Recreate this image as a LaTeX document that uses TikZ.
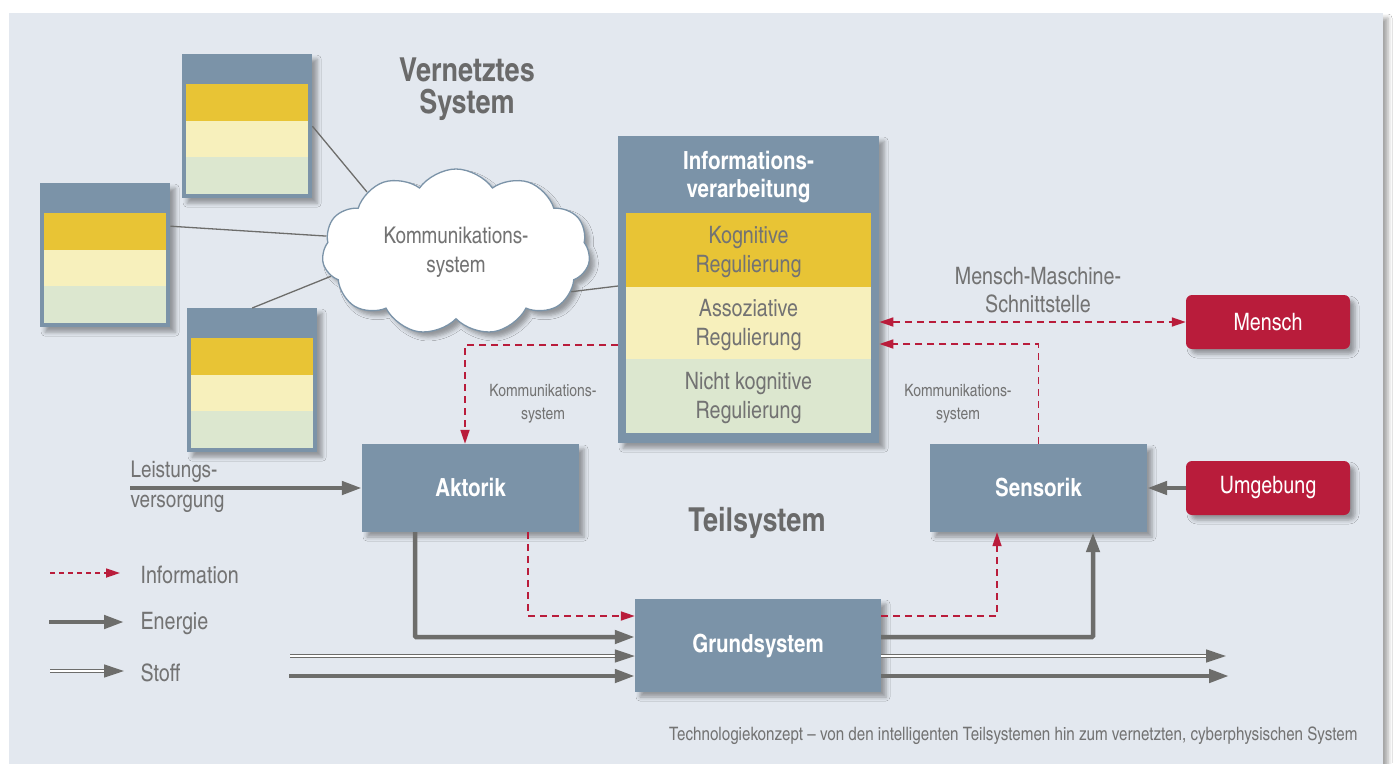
\documentclass[tikz,border=0pt]{standalone}
\usepackage{fontspec}
\setmainfont{texgyreheroscn}[Extension=.otf, UprightFont=*-regular, BoldFont=*-bold]
\usetikzlibrary{shapes.symbols,shadows.blur,arrows.meta}
\definecolor{bgpanel}{HTML}{E3E8EF}
\definecolor{slate}{HTML}{7B93A8}
\definecolor{yel}{HTML}{E8C435}
\definecolor{lyel}{HTML}{F7F0BC}
\definecolor{lgreen}{HTML}{DCE7CF}
\definecolor{crim}{HTML}{B91C3B}
\definecolor{arrgray}{HTML}{6D6D6B}
\definecolor{txtgray}{HTML}{737373}
\definecolor{ttlgray}{HTML}{6A6A6A}
\newcommand\smallsys[3]{%
  \node[slatebox, minimum width=130pt, minimum height=144pt, anchor=north west] (#1) at (#2,#3) {};
  \fill[yel] (#2+4,#3+30) rectangle (#2+126,#3+67);
  \fill[lyel] (#2+4,#3+67) rectangle (#2+126,#3+103);
  \fill[lgreen] (#2+4,#3+103) rectangle (#2+126,#3+140);
}
\begin{document}
\begin{tikzpicture}[x=1pt,y=-1pt,
  shadowed/.style={blur shadow={shadow xshift=5pt,shadow yshift=-5pt,shadow blur radius=4pt,shadow opacity=35}},
  slatebox/.style={fill=slate, draw=none, shadowed, text=white, font=\bfseries\fontsize{25}{28}\selectfont, inner sep=0pt},
  redbox/.style={fill=crim, rounded corners=6pt, shadowed, text=white, font=\fontsize{24}{28}\selectfont, minimum width=164pt, minimum height=54pt, inner sep=0pt},
  stripe/.style={draw=none, inner sep=0pt, text=txtgray, align=center, font=\fontsize{24}{29}\selectfont, minimum width=245pt},
  stripetext/.style={text=txtgray, align=center, font=\fontsize{24}{29}\selectfont},
  energy/.style={draw=arrgray, line width=4.5pt, -{Triangle[length=20pt,width=13pt]}},
  stoff/.style={draw=arrgray, double=white, line width=1.4pt, double distance=1.8pt, -{Triangle[length=20pt,width=13pt]}},
  info/.style={draw=crim, line width=1.7pt, dash pattern=on 7pt off 5pt, -{Triangle[length=14pt,width=9pt]}},
  conn/.style={draw=arrgray, line width=1.3pt},
  lbl/.style={text=txtgray, align=center, font=\fontsize{24}{28}\selectfont},
  smalllbl/.style={text=txtgray, align=center, font=\fontsize{17}{23}\selectfont},
  ttl/.style={text=ttlgray, align=center, font=\bfseries\fontsize{33}{32}\selectfont},
]
\useasboundingbox (0,0) rectangle (1394,763);
\fill[white] (0,0) rectangle (1394,763);
\fill[bgpanel, shadowed] (9,13) rectangle (1383,780);

% networked small systems
\smallsys{sb1}{182}{54}
\smallsys{sb2}{40}{183}
\smallsys{sb3}{187}{308}

% cloud
\node[cloud, cloud puffs=11, cloud puff arc=110, aspect=1.6, draw=slate, line width=1.3pt, fill=white, shadowed,
      minimum width=268pt, minimum height=166pt, lbl, font=\fontsize{23}{29}\selectfont] (cloud) at (456,252) {Kommunikations-\\system};

% information processing
\node[slatebox, minimum width=261pt, minimum height=307pt, anchor=north west] (ib) at (618,136) {};
\node[text=white, align=center, font=\bfseries\fontsize{25}{28}\selectfont] (ibt) at (748.5,177) {Informations-\\verarbeitung};
\node[stripe, fill=yel, minimum height=74pt] (kog) at (748.5,250) {};
\node[stripe, fill=lyel, minimum height=72pt] (ass) at (748.5,323) {};
\node[stripe, fill=lgreen, minimum height=74pt] (nkog) at (748.5,396) {};
\node[stripetext] (kogt) at ([yshift=-2pt]kog.center) {Kognitive\\Regulierung};
\node[stripetext] (asst) at ([yshift=-2pt]ass.center) {Assoziative\\Regulierung};
\node[stripetext] (nkogt) at ([yshift=-2pt]nkog.center) {Nicht kognitive\\Regulierung};

% connections to cloud
\draw[conn] (sb1.east) -- (cloud.146);
\draw[conn] ([yshift=29pt]sb2.east) -- (cloud.173);
\draw[conn] (sb3.north) -- (cloud.191);
\draw[conn] (cloud.341) -- (ib.west |- 0,286);

% subsystem boxes
\node[slatebox, minimum width=217pt, minimum height=88pt] (akt) at (470.5,488) {Aktorik};
\node[slatebox, minimum width=217pt, minimum height=88pt] (sens) at (1038.5,488) {Sensorik};
\node[slatebox, minimum width=246pt, minimum height=93pt] (grund) at (758,645.5) {Grundsystem};
\node[redbox] (mensch) at (1268,322) {Mensch};
\node[redbox] (umg) at (1268,488) {Umgebung};

% information arrows
\draw[info, {Triangle[length=14pt,width=9pt]}-{Triangle[length=14pt,width=9pt]}] (ib.east |- mensch.west) -- (mensch.west);
\draw[info] (sens.north) |- (ib.east |- 0,344);
\draw[info] (ib.west |- 0,345) -| ([xshift=-5.5pt]akt.north);
\draw[info] ([xshift=57.5pt]akt.south) |- (grund.west |- 0,616);
\draw[info] (grund.east |- 0,616) -| ([xshift=-41.5pt]sens.south);

% energy arrows
\coordinate (lv) at (130,488);
\draw[energy] (lv) -- (akt.west);
\draw[energy] (umg.west) -- (sens.east);
\draw[energy, rounded corners=1pt] ([xshift=-55.5pt]akt.south) |- (grund.west |- 0,637);
\draw[energy, rounded corners=1pt] (grund.east |- 0,637) -| ([xshift=54.5pt]sens.south);

% material / energy through lines
\coordinate (s1) at (290,656);
\coordinate (s2) at (1226,656);
\coordinate (e1) at (289,676);
\coordinate (e2) at (1229,676);
\draw[stoff] (s1) -- (grund.west |- s1);
\draw[stoff] (grund.east |- s2) -- (s2);
\draw[energy] (e1) -- (grund.west |- e1);
\draw[energy] (grund.east |- e2) -- (e2);

% labels
\node[ttl] (tvs) at (467,89) {Vernetztes\\System};
\node[ttl] (tts) at (757,523) {Teilsystem};
\node[lbl] (mms) at (1038,290) {Mensch-Maschine-\\Schnittstelle};
\node[smalllbl] (k1) at (543,404) {Kommunikations-\\system};
\node[smalllbl] (k2) at (958,404) {Kommunikations-\\system};
\node[lbl, align=left, anchor=west, font=\fontsize{23}{30}\selectfont] (lvt) at (127,487) {Leistungs-\\versorgung};

% legend
\coordinate (l1a) at (50,573); \coordinate (l1b) at (120,573);
\coordinate (l2a) at (49,622); \coordinate (l2b) at (124,622);
\coordinate (l3a) at (50,671); \coordinate (l3b) at (124,671);
\draw[info, dash pattern=on 5pt off 4pt] (l1a) -- (l1b);
\draw[energy] (l2a) -- (l2b);
\draw[stoff] (l3a) -- (l3b);
\node[lbl, anchor=west] (lg1) at (137,575) {Information};
\node[lbl, anchor=west] (lg2) at (137,624) {Energie};
\node[lbl, anchor=west] (lg3) at (137,673) {Stoff};

% caption
\node[text=txtgray, anchor=east, font=\fontsize{18.5}{22}\selectfont] (cap) at (1361,736) {Technologiekonzept – von den intelligenten Teilsystemen hin zum vernetzten, cyberphysischen System};
\end{tikzpicture}
\end{document}
